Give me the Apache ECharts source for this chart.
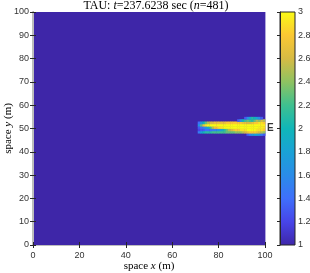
<!DOCTYPE html>
<html><head><meta charset="utf-8">
<script src="https://cdn.jsdelivr.net/npm/echarts@6/dist/echarts.min.js"></script>
<style>html,body{margin:0;padding:0;background:#fff}#c{width:310px;height:273px}</style>
</head><body><div id="c"></div>
<script>
// ---- data ----
const titleText = 'TAU: {i|t}=237.6238 sec ({i|n}=481)';
const xTicks = [0, 20, 40, 60, 80, 100];
const yTicks = [0, 10, 20, 30, 40, 50, 60, 70, 80, 90, 100];
const cbTicks = [1, 1.2, 1.4, 1.6, 1.8, 2, 2.2, 2.4, 2.6, 2.8, 3];
const parula = ['#3e26a8','#4744e8','#3f6ffb','#2a8ce8','#1aa2d6','#10b6b8','#3fc08f','#8fc261','#d7ba44','#fbc833','#f9fb15'];
const backgroundValue = 1;
const domainSize = 100;
// plume rows: y index, start x index, values (one per 1 m cell)
const rowY = [47, 48, 49, 50, 51, 52, 53, 54];
const rowStartX = [92, 71, 71, 71, 71, 71, 88, 91];
const row47 = [1.3,1.5,1.7,1.8,1.8,1.7,1.5,1.3];
const row48 = [1.5,1.8,2.0,2.1,2.1,2.1,2.2,2.2,2.2,2.2,2.2,2.2,2.3,2.3,2.3,2.3,2.4,2.4,2.4,2.5,2.6,2.7,2.8,2.8,2.8,2.7,2.6,2.5,2.4];
const row49 = [1.2,1.3,1.3,1.4,1.4,1.4,1.5,1.5,1.6,1.7,1.9,2.1,2.3,2.5,2.6,2.7,2.8,2.8,2.9,2.9,2.9,3.0,3.0,3.0,3.0,2.9,2.9,2.9,2.8];
const row50 = [1.3,1.4,1.5,1.7,1.9,2.2,2.5,2.7,2.8,2.9,2.9,3.0,3.0,3.0,3.0,3.0,3.0,3.0,3.0,3.0,3.0,3.0,3.0,3.0,3.0,3.0,2.95,2.95,2.9];
const row51 = [1.7,2.3,2.7,2.9,3.0,3.0,3.0,3.0,3.0,3.0,3.0,3.0,3.0,3.0,3.0,3.0,3.0,3.0,3.0,3.0,3.0,3.0,3.0,3.0,3.0,3.0,3.0,2.95,2.95];
const row52 = [1.4,1.7,2.0,2.3,2.5,2.6,2.6,2.7,2.7,2.7,2.7,2.7,2.8,2.8,2.8,2.8,2.8,2.8,2.8,2.7,2.7,2.6,2.6,2.7,2.8,2.8,2.9,2.9,2.8];
const row53 = [1.3,1.6,2.0,2.2,2.3,2.2,2.1,2.3,2.5,2.4,2.6,2.5];
const row54 = [1.3,1.6,1.9,2.1,2.0,1.8,1.6,1.3];
const rows = [row47, row48, row49, row50, row51, row52, row53, row54];
const sourceLabel = {x: 100, y: 50.3, text: 'E'};

// ---- build cells [x, y, w, h, value] ----
const cells = [[0, 0, domainSize, domainSize, backgroundValue]];
rows.forEach((r, i) => r.forEach((v, j) => cells.push([rowStartX[i] + j, rowY[i], 1, 1, v])));

const chart = echarts.init(document.getElementById('c'), null, {renderer: 'canvas'});
const dark = '#262626', light = '#bdbdbd';
const tickFont = {fontFamily: 'Liberation Sans', fontSize: 9, color: '#333'};
const serif = 'Liberation Serif';
const nameRich = {n: {fontFamily: serif, fontSize: 11, color: '#000'}, i: {fontFamily: serif, fontSize: 11, fontStyle: 'italic', color: '#000'}};

function axisCommon(extra) {
  return Object.assign({
    type: 'value', min: 0, max: 100, z: 5,
    splitLine: {show: false},
    axisTick: {inside: true, length: 3, lineStyle: {color: dark}},
  }, extra);
}

chart.setOption({
  animation: false,
  title: {
    text: titleText, left: 156, top: 0, padding: 0, textAlign: 'center',
    textStyle: {fontFamily: serif, fontSize: 12, fontWeight: 'normal', color: '#000', lineHeight: 11,
      rich: {i: {fontFamily: serif, fontSize: 12, fontStyle: 'italic', color: '#000', lineHeight: 11}}}
  },
  grid: [
    {left: 33, top: 12, width: 232, height: 233, containLabel: false, outerBoundsMode: 'none'},
    {left: 280, top: 12, width: 15, height: 233, containLabel: false, outerBoundsMode: 'none'}
  ],
  visualMap: {show: false, type: 'continuous', min: 1, max: 3, dimension: 4, seriesIndex: 0, inRange: {color: parula}},
  xAxis: [
    axisCommon({gridIndex: 0, position: 'bottom', interval: 20,
      axisLine: {show: true, lineStyle: {color: dark}},
      axisLabel: Object.assign({margin: 6}, tickFont),
      name: '{n|space }{i|x}{n| (m)}', nameLocation: 'middle', nameGap: 21, nameMoveOverlap: false,
      nameTextStyle: {rich: nameRich, verticalAlign: 'middle'}}),
    axisCommon({gridIndex: 0, position: 'top', interval: 20,
      axisLine: {show: true, lineStyle: {color: light}}, axisLabel: {show: false}}),
    {gridIndex: 1, type: 'value', min: 0, max: 1, show: false}
  ],
  yAxis: [
    axisCommon({gridIndex: 0, position: 'left', interval: 10,
      axisLine: {show: true, lineStyle: {color: dark}},
      axisLabel: Object.assign({margin: 4}, tickFont),
      name: '{n|space }{i|y}{n| (m)}', nameLocation: 'middle', nameGap: 25, nameRotate: 90, nameMoveOverlap: false,
      nameTextStyle: {rich: nameRich, verticalAlign: 'middle'}}),
    axisCommon({gridIndex: 0, position: 'right', interval: 10,
      axisLine: {show: true, lineStyle: {color: light, width: 2}}, axisLabel: {show: false}}),
    {gridIndex: 1, type: 'value', min: cbTicks[0], max: cbTicks[cbTicks.length - 1], interval: 0.2, position: 'right', z: 5,
      splitLine: {show: false},
      axisLine: {show: true, lineStyle: {color: dark}},
      axisTick: {inside: true, length: 3, lineStyle: {color: dark}},
      axisLabel: Object.assign({margin: 3, formatter: v => String(+v.toFixed(1))}, tickFont)}
  ],
  series: [
    {
      type: 'custom', xAxisIndex: 0, yAxisIndex: 0, data: cells, z: 2,
      renderItem(params, api) {
        const x = api.value(0), y = api.value(1), w = api.value(2), h = api.value(3);
        const p0 = api.coord([x, y + h]), p1 = api.coord([x + w, y]);
        return {type: 'rect', shape: {x: p0[0], y: p0[1], width: p1[0] - p0[0] + 0.4, height: p1[1] - p0[1] + 0.4},
          style: {fill: api.visual('color')}};
      }
    },
    {
      type: 'custom', xAxisIndex: 2, yAxisIndex: 2, data: [[0, cbTicks[0], 1, cbTicks[cbTicks.length - 1]]], z: 2,
      renderItem(params, api) {
        const p0 = api.coord([api.value(0), api.value(3)]), p1 = api.coord([api.value(2), api.value(1)]);
        const stops = parula.map((c, i) => ({offset: i / (parula.length - 1), color: c}));
        return {type: 'rect', shape: {x: p0[0], y: p0[1], width: p1[0] - p0[0], height: p1[1] - p0[1]},
          style: {fill: new echarts.graphic.LinearGradient(0, 1, 0, 0, stops), stroke: dark, lineWidth: 1}};
      }
    },
    {
      type: 'scatter', xAxisIndex: 0, yAxisIndex: 0, symbolSize: 0, z: 6, clip: false,
      data: [[sourceLabel.x, sourceLabel.y]],
      label: {show: true, position: 'right', distance: 2, formatter: sourceLabel.text,
        fontFamily: 'Liberation Sans', fontSize: 10, fontWeight: 'bold', color: '#000'}
    }
  ]
});
</script></body></html>
